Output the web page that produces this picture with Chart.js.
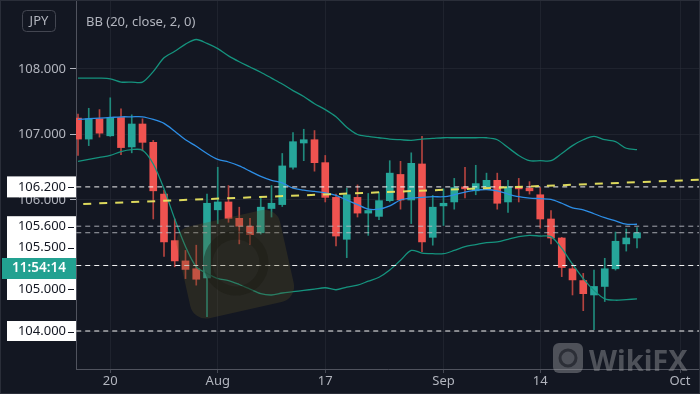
<!DOCTYPE html>
<html>
<head>
<meta charset="utf-8">
<script src="https://cdn.jsdelivr.net/npm/chart.js@4.4.0/dist/chart.umd.min.js"></script>
<style>
  html, body { margin: 0; padding: 0; background: #131722; }
  canvas { display: block; }
</style>
</head>
<body>
<canvas id="chart" width="700" height="394"></canvas>
<script>
// USD/JPY daily, mid Jul - late Sep 2020
const dates = ['07-15','07-16','07-17','07-20','07-21','07-22','07-23','07-24','07-27','07-28',
  '07-29','07-30','07-31','08-03','08-04','08-05','08-06','08-07','08-10','08-11',
  '08-12','08-13','08-14','08-17','08-18','08-19','08-20','08-21','08-24','08-25',
  '08-26','08-27','08-28','08-31','09-01','09-02','09-03','09-04','09-07','09-08',
  '09-09','09-10','09-11','09-14','09-15','09-16','09-17','09-18','09-21','09-22',
  '09-23','09-24','09-25'];

const opens = [107.25,106.93,107.24,106.98,107.26,106.81,107.16,106.88,106.09,105.38,
  105.07,104.95,104.81,105.85,105.97,105.72,105.60,105.50,105.87,105.93,
  106.50,106.87,106.92,106.57,106.04,105.40,106.04,105.80,105.75,105.99,
  106.39,106.00,106.55,105.43,105.91,105.97,106.20,106.14,106.20,106.30,
  105.97,106.19,106.18,106.08,105.71,105.42,104.95,104.77,104.55,104.68,
  104.95,105.33,105.42];
const highs = [107.31,107.40,107.38,107.56,107.39,107.30,107.24,106.91,106.15,105.71,
  105.23,105.31,106.09,106.50,106.22,105.89,105.72,106.05,106.22,106.71,
  107.03,107.08,107.06,106.68,106.09,106.18,106.23,106.10,106.12,106.60,
  106.59,106.72,106.97,106.07,106.17,106.33,106.50,106.53,106.41,106.41,
  106.30,106.33,106.28,106.19,105.84,105.43,105.03,104.88,104.93,105.11,
  105.51,105.56,105.58];
const lows = [106.68,106.83,106.96,106.97,106.69,106.72,106.75,105.71,105.14,104.98,
  104.80,104.70,104.22,105.64,105.66,105.33,105.32,105.48,105.74,105.90,
  106.47,106.60,106.44,105.97,105.30,105.12,105.74,105.46,105.70,105.97,
  105.86,105.64,105.21,105.31,105.61,105.86,106.03,106.08,106.18,105.86,
  105.81,105.97,106.09,105.57,105.33,104.83,104.55,104.31,104.02,104.45,
  104.93,105.22,105.27];
const closes = [106.93,107.24,107.02,107.25,106.80,107.16,106.88,106.14,105.36,105.07,
  104.94,104.79,105.95,105.97,105.72,105.60,105.47,105.89,105.95,106.52,
  106.89,106.92,106.57,106.04,105.45,106.08,105.80,105.84,105.99,106.41,
  106.00,106.56,105.36,105.89,105.95,106.19,106.17,106.25,106.30,105.95,
  106.20,106.17,106.14,105.71,105.42,104.97,104.78,104.57,104.68,104.95,
  105.37,105.42,105.50];

// Bollinger Bands (20, close, 2)
const bbBasis = [107.23,107.24,107.25,107.26,107.27,107.27,107.27,107.23,107.17,107.05,
  106.92,106.82,106.71,106.62,106.58,106.52,106.44,106.36,106.30,106.26,
  106.18,106.15,106.13,106.11,106.07,106.00,105.93,105.86,105.86,105.91,
  106.00,106.03,106.04,106.05,106.05,106.08,106.12,106.15,106.16,106.14,
  106.09,106.05,106.03,106.02,106.01,105.95,105.88,105.85,105.79,105.73,
  105.68,105.63,105.63];
const bbUpper = [107.86,107.86,107.86,107.85,107.80,107.80,107.80,107.96,108.17,108.27,
  108.38,108.45,108.39,108.31,108.20,108.11,108.03,107.95,107.86,107.77,
  107.67,107.58,107.47,107.38,107.27,107.11,107.00,106.97,106.95,106.93,
  106.92,106.91,106.93,106.94,106.95,106.95,106.95,106.95,106.95,106.92,
  106.80,106.68,106.60,106.60,106.60,106.71,106.83,106.92,106.97,106.92,
  106.89,106.79,106.77];
const bbLower = [106.59,106.62,106.65,106.68,106.74,106.77,106.76,106.55,106.17,105.71,
  105.29,104.98,104.88,104.80,104.77,104.71,104.64,104.57,104.55,104.58,
  104.60,104.62,104.64,104.66,104.63,104.67,104.70,104.76,104.82,104.93,
  105.08,105.23,105.19,105.18,105.18,105.23,105.29,105.32,105.35,105.36,
  105.40,105.44,105.46,105.45,105.44,105.26,105.02,104.80,104.62,104.49,
  104.47,104.48,104.49];

const tickPos = [3, 13, 23, 34, 43, 56];
const tickText = ['20', 'Aug', '17', 'Sep', '14', 'Oct'];
const priceTicks = [104, 105, 106, 107, 108];

// horizontal levels and trend line
const levels = [106.2, 105.6, 105.5, 105.0, 104.0];
const levelDim = [false, true, true, false, false];
const trendX = [-1, 58];
const trendY = [105.93, 106.31];

const UP = '#26a69a', DOWN = '#ef5350';
const isUp = opens.map((o, i) => closes[i] >= o);

const lineDs = (vals, color, order) => ({
  type: 'line',
  data: vals.map((v, i) => ({ x: i, y: v })),
  borderColor: color,
  borderWidth: 1.3,
  pointRadius: 0,
  tension: 0.3,
  order: order
});

const levelSets = levels.map((v, k) => ({
  type: 'line',
  data: trendX.map(x => ({ x: x, y: v })),
  borderColor: levelDim[k] ? 'rgba(190,193,200,0.85)' : 'rgba(255,255,255,0.95)',
  borderWidth: 1,
  borderDash: [5, 4],
  pointRadius: 0,
  order: 0
}));

const noPad = s => {
  s.paddingTop = 0; s.paddingBottom = 0;
  s.paddingLeft = 0; s.paddingRight = 0;
};

const decor = {
  id: 'decor',
  beforeDraw(chart) {
    const ctx = chart.ctx;
    ctx.save();
    ctx.fillStyle = '#131722';
    ctx.fillRect(0, 0, chart.width, chart.height);
    ctx.restore();
  },
  afterDraw(chart) {
    const ctx = chart.ctx;
    const y = chart.scales.y;
    ctx.save();

    // faint watermark in the middle
    ctx.save();
    ctx.translate(236, 263);
    ctx.rotate(-0.22);
    ctx.fillStyle = 'rgba(90,78,38,0.3)';
    ctx.beginPath();
    ctx.roundRect(-54, -46, 106, 94, 16);
    ctx.fill();
    ctx.strokeStyle = 'rgba(25,24,18,0.4)';
    ctx.lineWidth = 9;
    ctx.beginPath();
    ctx.arc(0, 0, 28, 0, Math.PI * 2);
    ctx.stroke();
    ctx.restore();

    // bottom-right logo
    ctx.fillStyle = 'rgba(150,152,158,0.45)';
    ctx.beginPath();
    ctx.roundRect(553, 343, 30, 30, 6);
    ctx.fill();
    ctx.strokeStyle = 'rgba(30,33,42,0.7)';
    ctx.lineWidth = 3;
    ctx.beginPath();
    ctx.arc(568, 358, 8, 0, Math.PI * 2);
    ctx.stroke();
    ctx.font = 'bold 29px "Noto Sans", sans-serif';
    ctx.textAlign = 'left';
    ctx.textBaseline = 'alphabetic';
    ctx.fillText('WikiFX', 589, 371);

    // indicator legend
    ctx.font = '13px "Noto Sans", sans-serif';
    ctx.fillStyle = '#b2b5be';
    ctx.textBaseline = 'middle';
    ctx.fillText('BB (20, close, 2, 0)', 86, 22);

    // JPY box
    ctx.strokeStyle = '#434651';
    ctx.lineWidth = 1;
    ctx.beginPath();
    ctx.roundRect(22.5, 10.5, 33, 21, 4);
    ctx.stroke();
    ctx.textAlign = 'center';
    ctx.fillText('JPY', 39, 21.5);

    // price labels on the axis
    const whiteBox = (top, bottom, texts) => {
      ctx.fillStyle = '#ffffff';
      ctx.fillRect(7, top, 69, bottom - top);
      ctx.font = '13px "Noto Sans", sans-serif';
      ctx.textAlign = 'right';
      ctx.textBaseline = 'middle';
      texts.forEach(t => {
        ctx.fillStyle = '#131722';
        ctx.fillText(t[0], 66, t[1]);
        ctx.fillRect(68, Math.round(t[1]), 6, 1);
      });
    };
    const p = v => y.getPixelForValue(v);
    whiteBox(p(levels[0]) - 10.5, p(levels[0]) + 10.5, [[levels[0].toFixed(3), p(levels[0]) + 0.5]]);
    whiteBox(p(levels[1]) - 10, p(levels[1]) + 32, [[levels[1].toFixed(3), p(levels[1]) + 0.5], [levels[2].toFixed(3), p(levels[1]) + 21.5]]);
    whiteBox(p(levels[3]) + 13.5, p(levels[3]) + 34.5, [[levels[3].toFixed(3), p(levels[3]) + 24]]);
    whiteBox(p(levels[4]) - 10, p(levels[4]) + 10, [[levels[4].toFixed(3), p(levels[4]) + 0.5]]);

    // countdown label
    ctx.fillStyle = '#22a191';
    ctx.fillRect(2, p(levels[3]) - 7.5, 74, 21);
    ctx.fillStyle = '#ffffff';
    ctx.font = '600 13.5px "Noto Sans", sans-serif';
    ctx.textAlign = 'center';
    ctx.fillText('11:54:14', 39, p(levels[3]) + 3);

    // frame
    ctx.strokeStyle = '#2a2e39';
    ctx.lineWidth = 1;
    ctx.strokeRect(0.5, 0.5, chart.width - 1, chart.height - 1);
    ctx.restore();
  }
};

new Chart(document.getElementById('chart'), {
  type: 'bar',
  data: {
    datasets: [
      {
        data: dates.map((d, i) => ({ x: i, y: [lows[i], highs[i]] })),
        backgroundColor: isUp.map(u => u ? '#1f8a7c' : '#b4433f'),
        barThickness: 1,
        grouped: false,
        order: 3
      },
      {
        data: dates.map((d, i) => ({ x: i, y: [opens[i], closes[i]] })),
        backgroundColor: isUp.map(u => u ? UP : DOWN),
        barThickness: 7,
        minBarLength: 1,
        grouped: false,
        order: 2
      },
      lineDs(bbUpper, '#15937e', 1),
      lineDs(bbLower, '#15937e', 1),
      lineDs(bbBasis, '#2d8ee6', 1),
      {
        type: 'line',
        data: trendX.map((x, k) => ({ x: x, y: trendY[k] })),
        borderColor: 'rgba(232,228,96,0.95)',
        borderWidth: 2,
        borderDash: [8, 8],
        pointRadius: 0,
        order: 0
      },
      ...levelSets
    ]
  },
  options: {
    responsive: false,
    animation: false,
    events: [],
    layout: { padding: 0 },
    plugins: { legend: { display: false }, tooltip: { enabled: false } },
    scales: {
      x: {
        type: 'linear',
        min: -0.186,
        max: 57.86,
        offset: false,
        afterFit: s => { s.height = 25; noPad(s); },
        afterBuildTicks: s => { s.ticks = tickPos.map(v => ({ value: v })); },
        grid: { color: 'rgba(42,46,57,0.55)', offset: false, tickLength: 4, tickColor: 'rgba(120,123,134,0.5)' },
        border: { color: '#50535e' },
        ticks: {
          autoSkip: false,
          maxRotation: 0,
          padding: 0,
          color: '#b2b5be',
          font: { family: '"Noto Sans", sans-serif', size: 13 },
          callback: v => tickText[tickPos.indexOf(v)]
        }
      },
      y: {
        type: 'linear',
        position: 'left',
        min: 103.42,
        max: 109.053,
        beginAtZero: false,
        afterFit: s => { s.width = 76; noPad(s); },
        afterBuildTicks: s => { s.ticks = priceTicks.map(v => ({ value: v })); },
        grid: { color: 'rgba(42,46,57,0.55)', tickLength: 6, tickColor: '#b2b5be' },
        border: { color: '#50535e' },
        ticks: {
          padding: 4,
          color: '#b2b5be',
          font: { family: '"Noto Sans", sans-serif', size: 13 },
          callback: v => v.toFixed(3)
        }
      }
    }
  },
  plugins: [decor]
});
</script>
</body>
</html>
